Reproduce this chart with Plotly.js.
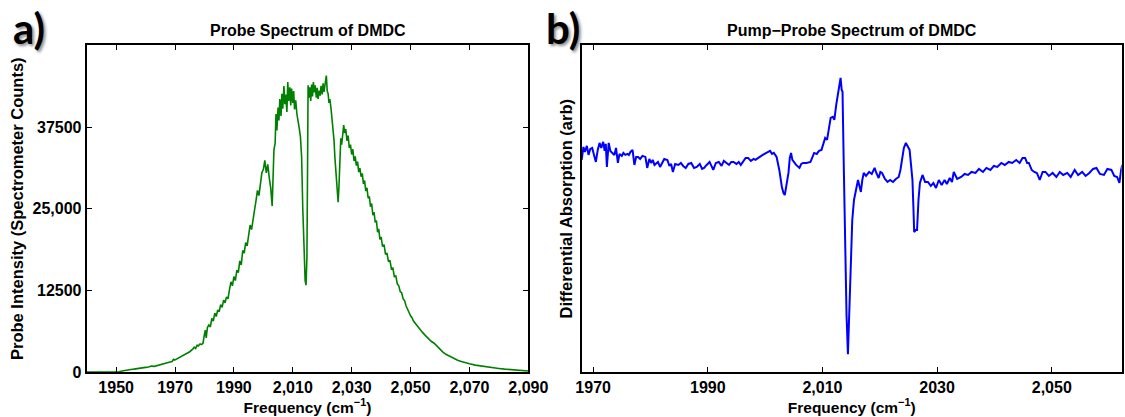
<!DOCTYPE html>
<html>
<head>
<meta charset="utf-8">
<script src="https://cdn.plot.ly/plotly-3.0.1.min.js"></script>
<style>html,body{margin:0;padding:0;background:#fff;}#chart{width:1125px;height:417px;}</style>
</head>
<body>
<div id="chart"></div>
<script>
// ---- Panel a: probe spectrum (frequency in cm^-1, spectrometer counts) ----
const probeFreq = [1940,1942,1944,1946,1948,1950,1951,1952,1953,1954,1955,1956,1957,1958,1959,1960,1961,1962,1963,1964,1965,1966,1967,1968,1969,1969.5,1970,1971,1972,1973,1974,1975,1976,1976.5,1977,1977.5,1978,1978.5,1979,1979.5,1980,1980.3,1980.6,1981,1981.5,1982,1982.5,1983,1983.5,1984,1984.5,1985,1985.5,1986,1986.5,1987,1987.5,1988,1988.5,1989,1989.5,1990,1990.5,1991,1991.5,1992,1992.5,1993,1993.5,1994,1994.5,1995,1995.5,1996,1996.5,1997,1997.5,1998,1998.5,1999,1999.5,2000,2000.5,2001,2001.5,2002,2002.5,2003,2003.3,2003.6,2004,2004.3,2004.6,2005,2005.3,2005.6,2006,2006.3,2006.6,2007,2007.3,2007.6,2008,2008.3,2008.6,2009,2009.3,2009.6,2010,2010.3,2010.6,2011,2011.4,2011.8,2012.2,2012.6,2013,2013.4,2013.8,2014.2,2014.5,2014.8,2015.0,2015.2,2015.5,2015.8,2016.1,2016.4,2016.7,2017.0,2017.3,2017.6,2018.0,2018.3,2018.6,2019.0,2019.3,2019.6,2020.0,2020.3,2020.6,2021.0,2021.4,2021.7,2022.0,2022.3,2022.6,2023.0,2023.3,2023.6,2024.0,2024.3,2024.6,2025.0,2025.4,2025.7,2026.0,2026.3,2026.6,2027.0,2027.3,2027.6,2028.0,2028.4,2028.8,2029.2,2029.6,2030.0,2030.4,2030.8,2031.2,2031.6,2032.0,2032.4,2032.8,2033.2,2033.6,2034.0,2034.4,2034.8,2035.2,2035.6,2036.0,2036.4,2036.8,2037.2,2037.6,2038.0,2038.4,2038.8,2039.2,2039.6,2040.0,2040.5,2041.0,2041.5,2042.0,2042.5,2043.0,2043.5,2044.0,2044.5,2045.0,2045.5,2046.0,2046.5,2047.0,2047.5,2048.0,2048.5,2049,2049.5,2050,2050.5,2051,2052,2053,2053.5,2054,2055,2056,2057,2058,2059,2060,2061,2062,2063,2064,2065,2066,2067,2068,2069,2070,2072,2074,2076,2078,2080,2082,2084,2086,2088,2090];
const probeCounts = [0,0,0,0,0,0,30,150,260,320,380,430,470,540,600,700,760,900,860,1000,1150,1300,1450,1500,1600,1950,1850,2100,2300,2550,2800,3100,3500,3800,3600,4100,4000,4300,4200,4400,5800,6400,5200,6800,7200,6900,8200,7800,9000,8500,9500,9200,10300,9900,11000,10600,11500,11200,12600,13800,13200,14600,14000,15600,15200,17000,16400,18600,18200,19800,19300,21000,22500,21800,23600,24800,26200,27800,27000,29000,30500,31000,32400,30500,31800,29800,28200,25400,29000,34000,35000,39500,37000,40500,38500,41800,39200,42600,40300,43800,41000,42500,39800,44400,41500,43600,40800,43400,41200,43000,40200,41600,39500,38000,37300,36000,33000,25000,17000,14000,13300,17500,30000,43900,42000,43600,41500,44000,42200,44400,42800,43900,42000,43500,41800,43100,42300,43800,42500,44200,42900,44600,45400,43000,42600,41200,41800,40300,38900,37600,35500,32900,30500,27800,26000,28500,32500,35800,34800,37400,37800,36600,37200,35400,36200,34300,34800,33300,34100,32300,33000,31600,32200,30600,31200,29900,30400,28800,29300,27700,28200,26600,26900,25300,25800,24000,24500,22900,23200,21400,21900,20300,20700,19200,19500,18000,18200,16900,17100,15800,15900,14600,14700,13500,13200,12300,12100,11200,10900,10100,9700,9100,8600,8300,7800,7200,6700,6300,6100,5600,5100,4700,4400,3900,3400,3050,2700,2450,2200,2000,1800,1650,1500,1380,1270,1050,900,760,640,540,430,360,290,220,150];
const probeTickVals = [0,12500,25000,37500];
const probeTickText = ['0','12500','25,000','37500'];
const probeXTickVals = [1950,1970,1990,2010,2030,2050,2070,2090];
const probeXTickText = ['1950','1970','1990','2,010','2,030','2,050','2,070','2,090'];

// ---- Panel b: pump-probe differential absorption (arbitrary units) ----
const ppFreq = [1968.0,1968.3,1968.55,1968.9,1969.19,1969.5,1969.83,1970.1,1970.47,1970.8,1971.11,1971.4,1971.75,1972.0,1972.2,1972.39,1972.71,1973.0,1973.35,1973.7,1973.99,1974.31,1974.6,1975.0,1975.27,1975.6,1976.0,1976.23,1976.5,1976.87,1977.19,1977.5,1977.83,1978.2,1978.6,1979.11,1979.43,1979.8,1980.1,1980.39,1980.7,1981.03,1981.3,1981.67,1982.0,1982.4,1982.95,1983.3,1983.6,1983.91,1984.3,1984.87,1985.3,1985.7,1986.15,1986.6,1987.11,1987.6,1988.07,1988.6,1989.0,1989.35,1989.8,1990.31,1990.95,1991.4,1991.91,1992.4,1992.8,1993.19,1993.7,1994.1,1994.47,1995.0,1995.4,1995.75,1996.2,1996.6,1997.03,1997.5,1998.0,1998.31,1998.8,1999.2,1999.59,2000.2,2000.87,2001.2,2001.51,2002.0,2002.47,2002.92,2003.2,2003.43,2003.75,2004.07,2004.3,2004.52,2004.75,2005.03,2005.4,2005.99,2006.3,2006.63,2007.2,2007.91,2008.2,2008.55,2009.0,2009.4,2009.83,2010.2,2010.47,2010.8,2011.11,2011.43,2011.8,2012.07,2012.4,2012.8,2013.0,2013.16,2013.35,2013.5,2013.7,2013.95,2014.2,2014.44,2014.7,2014.95,2015.2,2015.5,2015.8,2016.2,2016.45,2016.7,2016.95,2017.2,2017.6,2018.15,2018.6,2019.1,2019.4,2019.8,2020.1,2020.4,2020.9,2021.35,2021.8,2022.3,2022.8,2023.3,2023.6,2023.9,2024.2,2024.55,2024.9,2025.2,2025.45,2025.7,2025.85,2026.0,2026.25,2026.5,2026.75,2027.0,2027.45,2027.9,2028.4,2028.9,2029.35,2029.8,2030.3,2030.8,2031.3,2031.7,2032.2,2032.6,2032.9,2033.5,2034.2,2034.8,2035.4,2036.0,2036.7,2037.3,2038.0,2038.6,2039.3,2039.9,2040.5,2041.2,2041.8,2042.5,2043.1,2043.8,2044.4,2044.9,2045.35,2045.7,2046.0,2046.5,2046.95,2047.4,2047.9,2048.4,2048.9,2049.5,2050.15,2050.8,2051.4,2052.0,2052.7,2053.3,2054.0,2054.6,2055.3,2055.9,2056.55,2057.2,2057.8,2058.4,2059.1,2059.7,2060.4,2060.9,2061.4,2061.8,2062.1,2062.3];
const ppSignal = [0.0,1.3,0.8,1.4,0.5,1.1,1.2,0.6,-0.2,1.0,1.7,1.2,1.8,0.9,1.6,-0.7,1.7,0.9,0.7,0.5,1.2,-0.3,0.6,0.4,0.7,0.5,0.6,0.5,0.8,1.0,-0.5,0.3,0.3,0.1,0.4,0.3,-0.8,0.1,-0.3,0.0,-0.5,-0.3,-0.2,-0.7,-0.3,0.1,0.0,-0.6,-0.4,-1.2,-0.4,-0.5,-0.3,-0.6,-0.8,-0.4,-0.3,-0.8,-0.7,-0.4,-0.9,-0.8,-0.5,-0.2,-1.0,-0.3,-0.2,-0.6,-0.1,-0.3,-0.5,-0.2,-0.2,-0.4,-0.2,-0.5,-0.1,0.2,0.2,-0.1,0.1,0.0,0.2,0.4,0.5,0.7,0.9,0.6,0.7,0.3,-1.0,-2.7,-3.3,-3.5,-2.5,-1.3,0.2,0.7,0.0,-0.2,-0.5,-0.8,-0.4,-0.3,-0.3,-0.2,0.3,0.7,0.6,0.9,1.0,1.6,2.2,2.0,3.0,4.2,4.3,4.0,5.5,7.0,7.9,8.2,7.0,6.8,0.0,-8.0,-15.5,-19.4,-14.0,-10.3,-6.0,-4.0,-3.0,-2.0,-2.6,-3.2,-2.0,-1.3,-1.6,-1.2,-1.4,-0.8,-1.3,-1.8,-1.2,-1.3,-1.9,-2.2,-2.0,-2.2,-1.9,-1.7,-1.0,0.3,1.2,1.7,1.3,1.0,-0.5,-2.0,-4.5,-7.2,-7.0,-7.0,-4.0,-2.3,-1.5,-2.2,-2.2,-2.6,-2.3,-2.8,-2.0,-2.5,-2.0,-2.4,-1.8,-2.2,-1.2,-1.9,-1.7,-1.4,-1.5,-1.2,-1.3,-0.9,-1.2,-0.8,-1.0,-0.6,-0.7,-0.3,-0.5,-0.2,-0.3,0.0,-0.3,0.2,0.2,-0.3,-0.3,-1.0,-1.2,-1.3,-2.0,-1.2,-1.2,-1.6,-1.3,-1.7,-1.2,-1.5,-1.3,-1.7,-1.0,-1.5,-1.2,-1.6,-1.3,-0.9,-0.8,-1.4,-1.5,-0.9,-1.0,-1.6,-1.7,-2.3,-1.0,-0.5];
const ppXTickVals = [1970,1990,2010,2030,2050];
const ppXTickText = ['1970','1990','2,010','2030','2,050'];

const FONT = 'Liberation Sans, Arial, Helvetica, sans-serif';

const traces = [
  {x: probeFreq, y: probeCounts, type: 'scatter', mode: 'lines',
   line: {color: '#008000', width: 1.6}, xaxis: 'x', yaxis: 'y', hoverinfo: 'x+y'},
  {x: ppFreq, y: ppSignal, type: 'scatter', mode: 'lines',
   line: {color: '#0000ff', width: 2}, xaxis: 'x2', yaxis: 'y2', hoverinfo: 'x+y'}
];

const axisCommon = {
  showline: true, linecolor: '#000', linewidth: 2, mirror: 'ticks',
  ticks: 'inside', ticklen: 5, tickwidth: 1, tickcolor: '#000',
  showgrid: false, zeroline: false,
  tickfont: {family: FONT, size: 16, color: '#000', weight: 'bold'}
};
const xTitleFont = {family: FONT, size: 15.5, color: '#000', weight: 'bold'};
const yTitleFont = {family: FONT, size: 16.5, color: '#000', weight: 'bold'};
const panelTitleFont = {family: FONT, size: 16, color: '#000', weight: 'bold'};
const labelFont = {family: 'Lato, Open Sans, sans-serif', size: 42, color: '#000', weight: 'bold',
                   shadow: '2px 2px 3px rgba(0,0,0,0.45)'};

const layout = {
  width: 1125, height: 417,
  margin: {l: 0, r: 0, t: 0, b: 0},
  paper_bgcolor: '#fff', plot_bgcolor: '#fff',
  showlegend: false,
  xaxis: Object.assign({}, axisCommon, {
    domain: [86.7/1125, 528.3/1125], range: [1940, 2090], anchor: 'y',
    tickmode: 'array', tickvals: probeXTickVals, ticktext: probeXTickText,
    title: {text: 'Frequency (cm<sup>\u22121</sup>)', font: xTitleFont, standoff: 0}
  }),
  yaxis: Object.assign({}, axisCommon, {
    domain: [0.108, 0.891], range: [0, 50000], anchor: 'x',
    tickmode: 'array', tickvals: probeTickVals, ticktext: probeTickText,
    title: {text: 'Probe Intensity (Spectrometer Counts)', font: yTitleFont, standoff: 5}
  }),
  xaxis2: Object.assign({}, axisCommon, {
    domain: [581.7/1125, 1121.7/1125], range: [1968, 2062.2], anchor: 'y2',
    tickmode: 'array', tickvals: ppXTickVals, ticktext: ppXTickText,
    title: {text: 'Frequency (cm<sup>\u22121</sup>)', font: xTitleFont, standoff: 0}
  }),
  yaxis2: Object.assign({}, axisCommon, {
    domain: [0.108, 0.891], range: [-21.17, 11.43], anchor: 'x2',
    ticks: '', showticklabels: false,
    title: {text: 'Differential Absorption (arb)', font: yTitleFont, standoff: 3}
  }),
  annotations: [
    {text: 'Probe Spectrum of DMDC', xref: 'paper', yref: 'paper',
     x: (86.7 + 528.3) / 2 / 1125, y: (417 - 30) / 417, xanchor: 'center', yanchor: 'middle',
     showarrow: false, font: panelTitleFont},
    {text: 'Pump\u2212Probe Spectrum of DMDC', xref: 'paper', yref: 'paper',
     x: (581.7 + 1121.7) / 2 / 1125, y: (417 - 30) / 417, xanchor: 'center', yanchor: 'middle',
     showarrow: false, font: panelTitleFont},
    {text: 'a)', xref: 'paper', yref: 'paper', x: 11 / 1125, y: (417 - 28) / 417,
     xanchor: 'left', yanchor: 'middle', showarrow: false, font: labelFont},
    {text: 'b)', xref: 'paper', yref: 'paper', x: 544 / 1125, y: (417 - 28) / 417,
     xanchor: 'left', yanchor: 'middle', showarrow: false, font: labelFont}
  ]
};

Plotly.newPlot('chart', traces, layout, {displayModeBar: false, staticPlot: true});
</script>
</body>
</html>
